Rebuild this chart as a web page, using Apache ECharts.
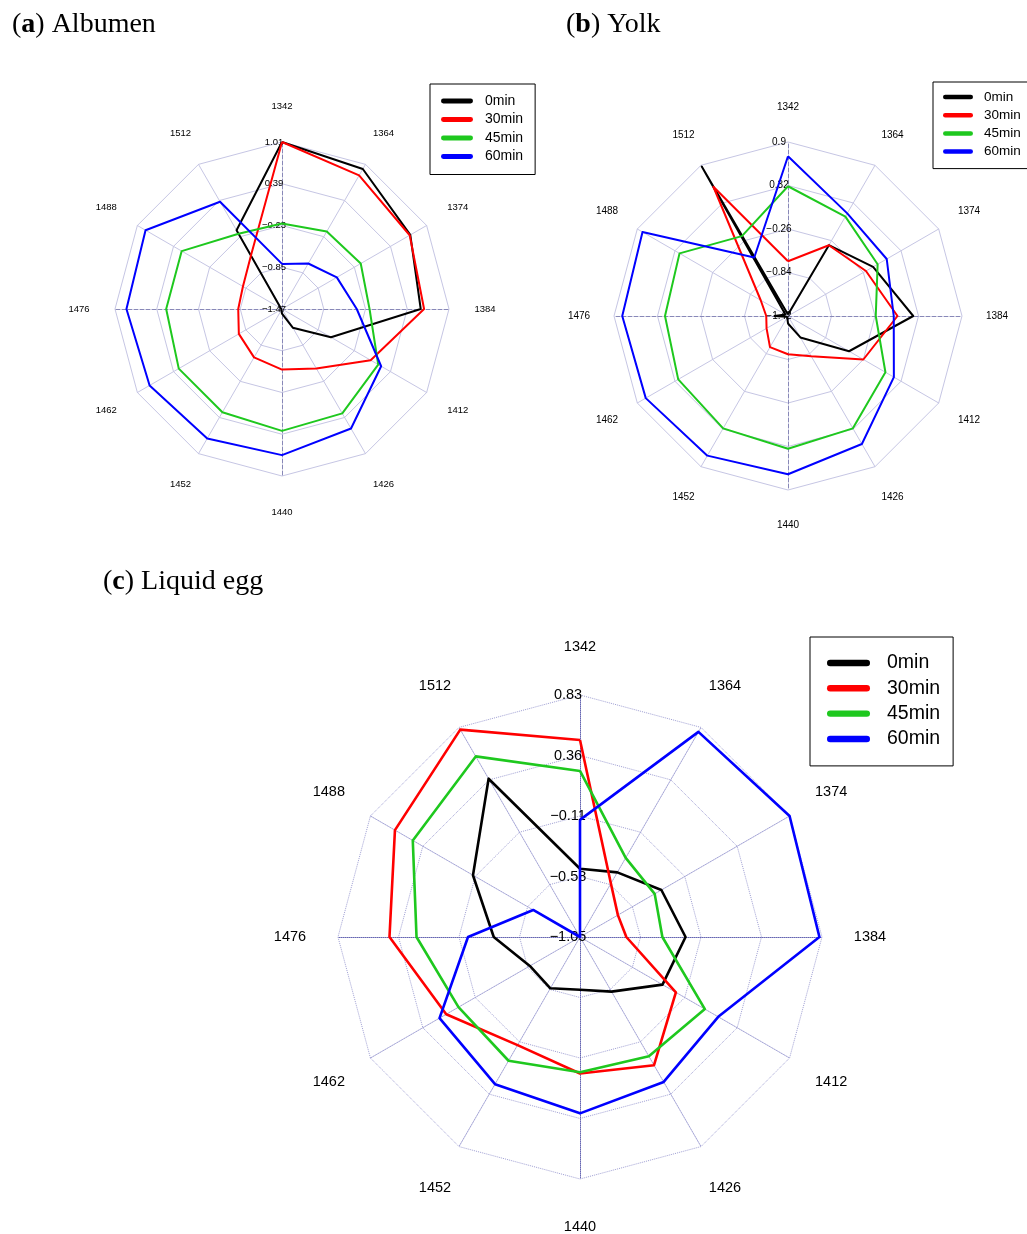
<!DOCTYPE html>
<html>
<head>
<meta charset="utf-8">
<script src="https://cdn.jsdelivr.net/npm/echarts@6/dist/echarts.min.js"></script>
<style>
  html, body { margin: 0; padding: 0; background: #ffffff; }
  #chart { width: 1027px; height: 1234px; }
</style>
</head>
<body>
<div id="chart"></div>
<script>
// Wavenumber axes (cm-1), listed clockwise from the top
const wavenumbers = ['1342', '1364', '1374', '1384', '1412', '1426', '1440', '1452', '1462', '1476', '1488', '1512'];
const timeNames = ['0min', '30min', '45min', '60min'];
const timeColors = ['#000000', '#ff0000', '#1ec81e', '#0000ff'];

// (a) Albumen
const albumenRange = [-1.47, 1.01];
const albumen0  = [1.01, 0.93, 0.73, 0.59, -0.63, -1.15, -1.40, -1.45, -1.46, -1.46, -1.45, -0.12];
const albumen30 = [1.01, 0.82, 0.72, 0.64, 0.05, -0.45, -0.57, -0.64, -0.73, -0.82, -0.80, -0.55];
const albumen45 = [-0.20, -0.14, -0.12, -0.17, 0.18, 0.32, 0.34, 0.30, 0.30, 0.25, 0.25, -0.18];
const albumen60 = [-0.80, -0.69, -0.53, -0.36, 0.23, 0.58, 0.70, 0.75, 0.80, 0.84, 0.87, 0.37];

// (b) Yolk
const yolkRange = [-1.42, 0.9];
const yolk0  = [-1.40, -0.33, -0.11, 0.25, -0.48, -1.09, -1.32, -1.40, -1.40, -1.24, -1.38, 0.88];
const yolk30 = [-0.69, -0.33, -0.22, 0.04, -0.26, -0.80, -0.91, -0.94, -1.09, -1.13, -1.00, 0.57];
const yolk45 = [0.31, 0.11, -0.04, -0.25, 0.08, 0.31, 0.35, 0.31, 0.27, 0.22, 0.25, -0.19];
const yolk60 = [0.71, 0.16, 0.10, -0.01, 0.21, 0.55, 0.69, 0.73, 0.77, 0.79, 0.82, -0.52];

// (c) Liquid egg
const eggRange = [-1.05, 0.83];
const egg0  = [-0.52, -0.47, -0.32, -0.23, -0.31, -0.56, -0.64, -0.59, -0.60, -0.38, -0.09, 0.37];
const egg30 = [0.48, -0.57, -0.71, -0.69, -0.19, 0.10, 0.01, -0.08, 0.15, 0.43, 0.61, 0.81];
const egg45 = [0.24, -0.34, -0.38, -0.41, 0.07, 0.02, 0.00, 0.06, 0.04, 0.22, 0.45, 0.57];
const egg60 = [-0.14, 0.79, 0.83, 0.81, 0.19, 0.25, 0.32, 0.27, 0.21, -0.18, -0.63, -1.05];

// ECharts lays radar indicators out counter-clockwise; keep the first one on top
// and walk the rest backwards so the wavenumbers run clockwise.
const order = [0].concat(wavenumbers.map((_, i) => i).slice(1).reverse());
const arrange = arr => order.map(i => arr[i]);

const SANS = 'Liberation Sans';
const cardinal = new Set(['1342', '1384', '1440', '1476']);

function tickText(v) {
  const s = String(+(+v).toFixed(2));
  return s.replace('-', '\u2212');
}

function makeRadar(opt) {
  return {
    center: opt.center,
    radius: opt.radius,
    shape: 'polygon',
    splitNumber: 4,
    startAngle: 90,
    nameGap: opt.nameGap,
    axisName: {
      color: '#000', fontFamily: SANS, fontSize: opt.nameSize,
      align: 'center', verticalAlign: 'middle'
    },
    axisLabel: {
      show: false, color: '#000', fontFamily: SANS, fontSize: opt.labelSize,
      margin: opt.labelShift, align: 'center', verticalAlign: 'middle',
      formatter: tickText
    },
    axisTick: { show: false },
    axisLine: { show: true, lineStyle: { color: opt.gridColor, width: 1, type: opt.gridType } },
    splitLine: { show: true, lineStyle: { color: opt.gridColor, width: 1, type: opt.gridType } },
    splitArea: { show: false },
    indicator: arrange(wavenumbers).map((w, i) => {
      const ind = { name: w, min: opt.range[0], max: opt.range[1] };
      if (i === 0) ind.axisLabel = { show: true };
      if (cardinal.has(w)) {
        ind.axisLine = { lineStyle: { color: opt.crossColor, type: opt.crossType, width: 1 } };
      }
      return ind;
    })
  };
}

function makeSeries(radarIndex, arrays, width) {
  return {
    type: 'radar',
    radarIndex: radarIndex,
    symbol: 'none',
    silent: true,
    data: arrays.map((arr, k) => ({
      name: timeNames[k],
      value: arrange(arr),
      lineStyle: { color: timeColors[k], width: width },
      itemStyle: { color: timeColors[k] },
      areaStyle: null
    }))
  };
}

const capsule = 'path://M3,0H37A3,3,0,0,1,37,6H3A3,3,0,0,1,3,0Z';

function makeLegend(o) {
  return {
    orient: 'vertical',
    left: o.left, top: o.top,
    data: timeNames,
    icon: capsule,
    itemWidth: o.itemWidth, itemHeight: o.itemHeight,
    itemGap: o.itemGap,
    padding: o.padding,
    borderColor: '#000', borderWidth: 1,
    backgroundColor: '#fff',
    selectedMode: false,
    textStyle: {
      color: '#000', fontFamily: SANS, fontSize: o.fontSize,
      lineHeight: o.lineHeight, padding: [0, 0, 0, o.textPad]
    }
  };
}

function makeTitle(letter, rest, left, top) {
  return {
    left: left, top: top, padding: 0,
    text: '(' + '{b|' + letter + '}) ' + rest,
    textStyle: {
      fontFamily: 'Liberation Serif', fontSize: 28, fontWeight: 'normal', color: '#000', lineHeight: 30,
      rich: { b: { fontFamily: 'Liberation Serif', fontSize: 28, fontWeight: 'bold', color: '#000', lineHeight: 30 } }
    }
  };
}

const chart = echarts.init(document.getElementById('chart'), null, { renderer: 'canvas', width: 1027, height: 1234 });

chart.setOption({
  backgroundColor: '#ffffff',
  animation: false,
  title: [
    makeTitle('a', 'Albumen', 12, 10),
    makeTitle('b', 'Yolk', 566, 10),
    makeTitle('c', 'Liquid egg', 103, 567)
  ],
  legend: [
    makeLegend({ left: 430, top: 84, itemWidth: 32, itemHeight: 5, itemGap: 4.5, padding: [10, 12, 11, 11], fontSize: 14, lineHeight: 14, textPad: 7 }),
    makeLegend({ left: 933, top: 82, itemWidth: 30, itemHeight: 5, itemGap: 4.2, padding: [8, 12, 10, 10], fontSize: 13.5, lineHeight: 13.5, textPad: 6 }),
    makeLegend({ left: 810, top: 637, itemWidth: 43, itemHeight: 7, itemGap: 5.3, padding: [16, 13, 17, 17], fontSize: 19.5, lineHeight: 20, textPad: 12 })
  ],
  radar: [
    makeRadar({ center: [282, 309], radius: 167, range: albumenRange, nameGap: 36, nameSize: 9.5, labelSize: 9.5, labelShift: 8,
      gridColor: '#c6c6e4', gridType: 'solid', crossColor: '#8888b8', crossType: 'dashed' }),
    makeRadar({ center: [788, 316], radius: 174, range: yolkRange, nameGap: 35, nameSize: 10, labelSize: 10, labelShift: 9,
      gridColor: '#c6c6e4', gridType: 'solid', crossColor: '#8888b8', crossType: 'dashed' }),
    makeRadar({ center: [580, 937], radius: 242, range: eggRange, nameGap: 48, nameSize: 14.5, labelSize: 14.5, labelShift: 12,
      gridColor: '#a0a0d4', gridType: 'dotted', crossColor: '#6666b2', crossType: 'dotted' })
  ],
  series: [
    makeSeries(0, [albumen0, albumen30, albumen45, albumen60], 2),
    makeSeries(1, [yolk0, yolk30, yolk45, yolk60], 2),
    makeSeries(2, [egg0, egg30, egg45, egg60], 2.6)
  ]
});
</script>
</body>
</html>
